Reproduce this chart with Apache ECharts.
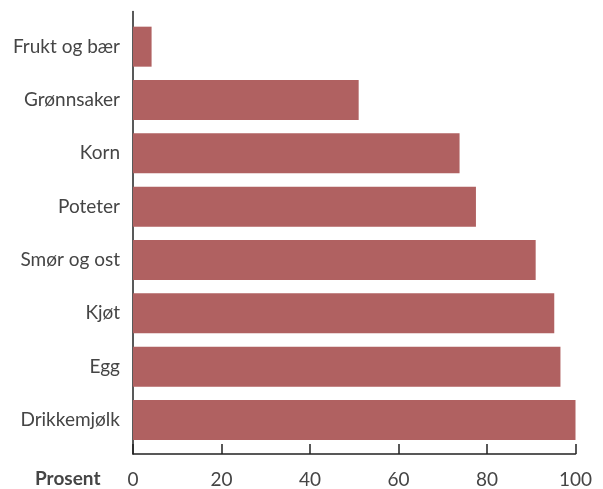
<!DOCTYPE html>
<html>
<head>
<meta charset="utf-8">
<script src="https://cdn.jsdelivr.net/npm/echarts@6/dist/echarts.min.js"></script>
<style>
  html, body { margin: 0; padding: 0; background: #fff; }
  #chart { width: 603px; height: 489px; }
</style>
</head>
<body>
<div id="chart"></div>
<script>
const categories = ['Frukt og bær', 'Grønnsaker', 'Korn', 'Poteter', 'Smør og ost', 'Kjøt', 'Egg', 'Drikkemjølk']
const values = [4.2, 51, 73.8, 77.5, 91, 95.2, 96.6, 100]
const xTicks = [0, 20, 40, 60, 80, 100]
const xTitle = 'Prosent'

const FONT = 'Lato'
const TEXT = '#454545'

const chart = echarts.init(document.getElementById('chart'))

const option = {
  backgroundColor: '#fff',
  animation: false,
  grid: [
    // bars
    { left: 133, right: 27.5, top: 20, bottom: 42.3 },
    // axis frame
    { left: 133, right: 27.5, top: 11.5, bottom: 34 }
  ],
  xAxis: [
    {
      gridIndex: 0, type: 'value', min: 0, max: 100, show: false
    },
    {
      gridIndex: 1,
      type: 'value',
      min: xTicks[0],
      max: xTicks[xTicks.length - 1],
      interval: xTicks[1] - xTicks[0],
      axisLine: { show: true, lineStyle: { color: '#222', width: 1.5 } },
      axisTick: { show: true, inside: true, length: 10, lineStyle: { color: '#222', width: 1.5 } },
      splitLine: { show: false },
      axisLabel: { color: TEXT, fontFamily: FONT, fontSize: 19, margin: 16 }
    }
  ],
  yAxis: [
    {
      gridIndex: 0,
      type: 'category',
      data: categories,
      inverse: true,
      axisLine: { show: false },
      axisTick: { show: false },
      axisLabel: { color: TEXT, fontFamily: FONT, fontSize: 19, margin: 13 }
    },
    {
      gridIndex: 1,
      type: 'value',
      min: 0, max: 1,
      axisLine: { show: true, lineStyle: { color: '#222', width: 1.5 } },
      axisTick: { show: false },
      axisLabel: { show: false },
      splitLine: { show: false }
    }
  ],
  graphic: [
    {
      type: 'text',
      left: 35,
      top: 469,
      style: { text: xTitle, fill: TEXT, font: 'bold 19px ' + FONT }
    }
  ],
  series: [
    {
      type: 'bar',
      xAxisIndex: 0,
      yAxisIndex: 0,
      data: values,
      barWidth: 40,
      itemStyle: { color: '#b06161' }
    }
  ]
}

chart.setOption(option)
</script>
</body>
</html>
